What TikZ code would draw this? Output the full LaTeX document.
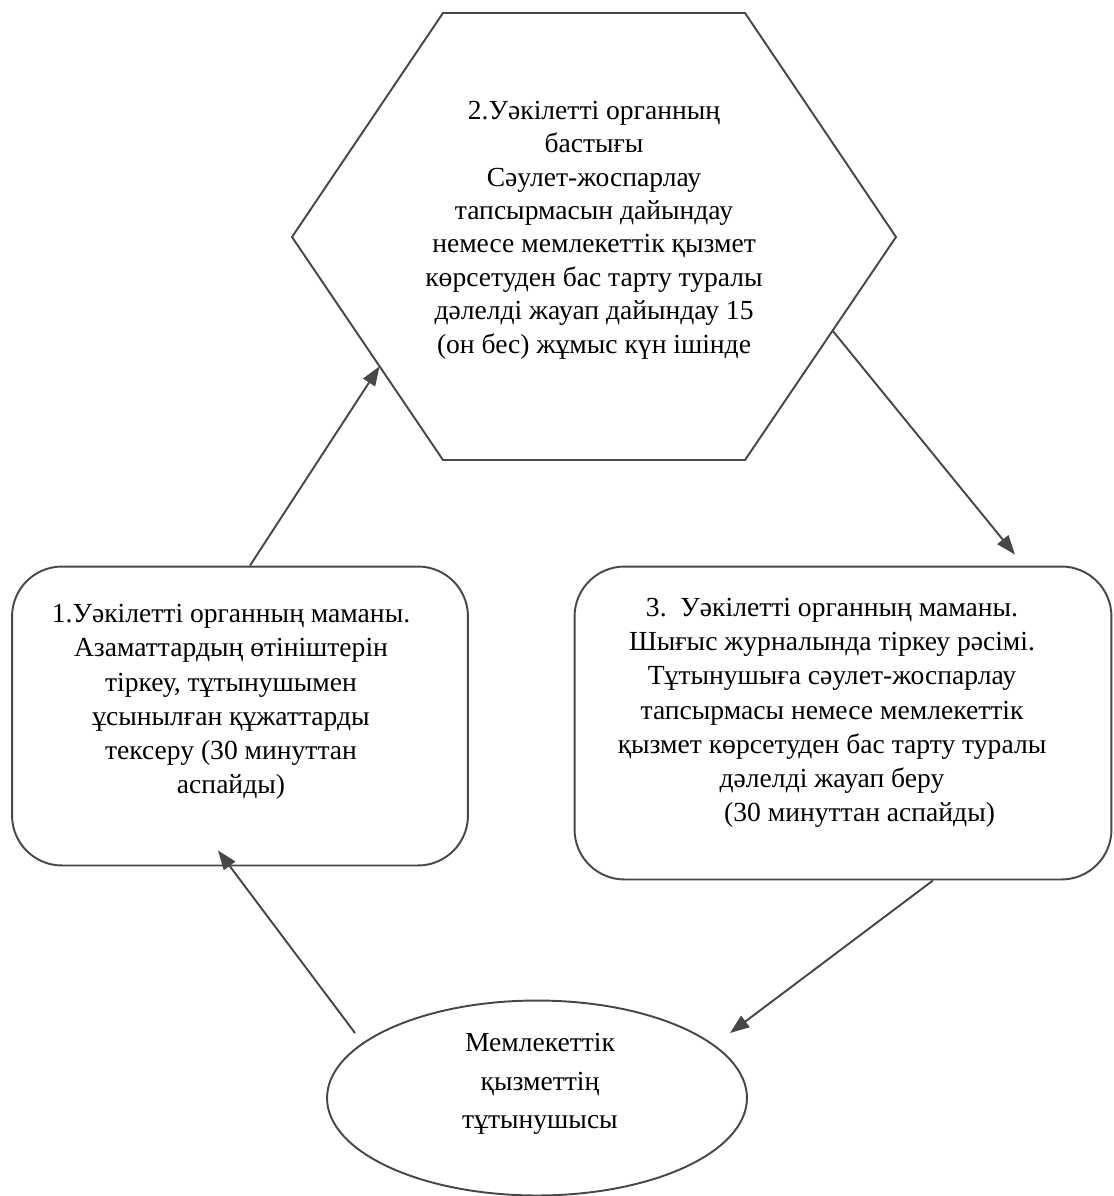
\documentclass[tikz,border=0pt]{standalone}
\usepackage{fontspec}
\setmainfont{Liberation Serif}
\usetikzlibrary{arrows.meta,calc,shapes.geometric,positioning}

\def\linecol{black!72}
\def\lw{1.1pt}

\begin{document}
\begin{tikzpicture}[x=0.02cm, y=-0.02cm,
    nodes = {font=\fontsize{15.7}{19.5}\selectfont, align=center},
    stepbox/.style = {draw=\linecol, line width=\lw, rounded corners=1cm, inner sep=0pt},
    userbox/.style = {ellipse, draw=\linecol, line width=\lw, inner sep=0pt},
    flow/.style    = {draw=\linecol, line width=\lw, -{Triangle[length=11pt,width=8pt]}}]
    \useasboundingbox (0,0) rectangle (1113,1196);

    % Hexagon corners (step 2)
    \foreach \name/\x/\y in {hexTL/443/13, hexTR/745/13, hexR/896/237,
                             hexBR/745/460, hexBL/443/460, hexL/292/237}
        \coordinate (\name) at (\x,\y);
    \draw[draw=\linecol, line width=\lw]
        (hexTL) -- (hexTR) -- (hexR) -- (hexBR) -- (hexBL) -- (hexL) -- cycle;
    \coordinate (hexIn)  at ($(hexL)!0.58!(hexBL)$);   % where arrow 1 lands
    \coordinate (hexOut) at ($(hexR)!0.42!(hexBR)$);   % where arrow 2 starts

    % Shapes
    \node[stepbox, minimum width=9.12cm, minimum height=5.98cm]  (spec)  at (240,716) {};
    \node[stepbox, minimum width=10.74cm, minimum height=6.26cm] (issue) at (843,723) {};
    \node[userbox, minimum width=8.4cm, minimum height=3.9cm]    (user)  at (537,1098) {};

    % Texts
    \node[font=\fontsize{15.7}{19}\selectfont] (chiefText) at (594,230) {2.Уәкілетті органның\\
        бастығы\hspace*{1.5em}\\
        Сәулет-жоспарлау\\
        тапсырмасын дайындау\\
        немесе мемлекеттік қызмет\\
        көрсетуден бас тарту туралы\\
        дәлелді жауап дайындау 15\\
        (он бес) жұмыс күн ішінде};
    \node (specText) at (231,702) {1.Уәкілетті органның маманы.\\
        Азаматтардың өтініштерін\\
        тіркеу, тұтынушымен\\
        ұсынылған құжаттарды\\
        тексеру (30 минуттан\\
        аспайды)};
    \node (issueText) at (832,713) {3.\ \ Уәкілетті органның маманы.\\
        Шығыс журналында тіркеу рәсімі.\\
        Тұтынушыға сәулет-жоспарлау\\
        тапсырмасы немесе мемлекеттік\\
        қызмет көрсетуден бас тарту туралы\\
        дәлелді жауап беру\\
        \hspace*{2em}(30 минуттан аспайды)};
    \node[font=\fontsize{15.7}{22}\selectfont] (userText) at (540,1084)
        {Мемлекеттік\\ қызметтің\\ тұтынушысы};

    % Connectors
    \draw[flow] ([xshift=0.2cm]spec.north) -- (hexIn);
    \draw[flow] (hexOut) -- ($(issue.north)+(172,-11)$);
    \draw[flow] ($(issue.south)+(90,0)$) -- ($(user.center)+(193,-65)$);
    \draw[flow] ($(user.center)+(-182,-65)$) -- ($(spec.south)+(-22,-16)$);
\end{tikzpicture}
\end{document}
